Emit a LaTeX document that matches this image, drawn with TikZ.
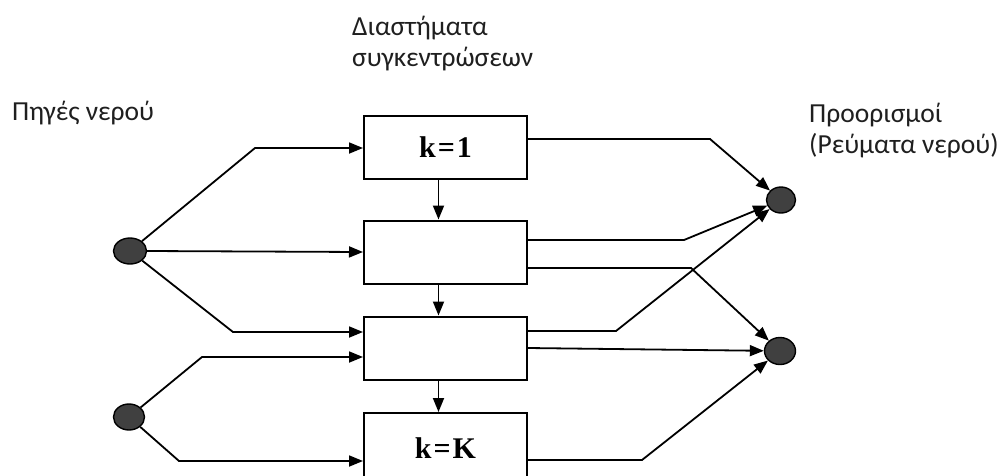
\documentclass[tikz,border=0pt]{standalone}
\usepackage{fontspec}
\setmainfont{Carlito}
\newfontfamily\boxfont{Liberation Serif}
\usetikzlibrary{arrows.meta,shapes.geometric}

\begin{document}
\begin{tikzpicture}[x=1pt,y=-1pt,
  stage/.style={draw,line width=2pt,minimum width=163pt,minimum height=63pt,
    inner sep=0pt,font=\boxfont\bfseries\fontsize{30}{32}\selectfont},
  spot/.style={ellipse,draw,line width=1.4pt,fill=black!75,inner sep=0pt},
  flow/.style={line width=1.8pt,-{Triangle[length=14pt,width=11pt]}},
  caption/.style={font=\fontsize{27.5}{30.5}\selectfont,inner sep=0pt,align=left,
    text=black!88}
]
\useasboundingbox (0,0) rectangle (1005,475);
\clip (0,0) rectangle (1005,475);

% concentration intervals
\node[stage] (b1) at (445.5,147.5) {k\kern2pt=\kern2pt1};
\node[stage] (b2) at (445.5,252) {};
\node[stage] (b3) at (445.5,348) {};
\node[stage,minimum height=70pt] (b4) at (445.5,448) {k\kern2pt=\kern2pt K};

% sources and destinations
\node[spot,minimum width=33pt,minimum height=26pt] (s1) at (130,251) {};
\node[spot,minimum width=31pt,minimum height=26pt] (s2) at (129,417) {};
\node[spot,minimum width=29pt,minimum height=26pt] (d1) at (781,200) {};
\node[spot,minimum width=31pt,minimum height=27pt] (d2) at (780,351) {};

% labels
\node[caption,anchor=base west] (lsrc) at (12,120) {Πηγές νερού};
\node[caption,anchor=base west] (lint) at (352,66) {Διαστήματα\\συγκεντρώσεων};
\node[caption,anchor=base west] (ldst) at (809,153) {Προορισμοί\\(Ρεύματα νερού)};

% bends of the connectors
\coordinate (i1) at (255,148);
\coordinate (i3) at (233,332);
\coordinate (i4) at (202,357);
\coordinate (i5) at (179,461);
\coordinate (o1) at (710,139);
\coordinate (o2) at (684,240);
\coordinate (o3) at (691,268);
\coordinate (o4) at (616,331);
\coordinate (o5) at (700,348);
\coordinate (o6) at (642,460);

% inputs
\draw[flow] (s1) -- (i1) -- (i1 -| b1.west);
\draw[flow] (s1.east) -- (b2.west);
\draw[flow] (s1) -- (i3) -- (i3 -| b3.west);
\draw[flow] (s2) -- (i4) -- (i4 -| b3.west);
\draw[flow] (s2) -- (i5) -- (i5 -| b4.west);

% cascade between intervals
\draw[flow] ([xshift=-7pt]b1.south) -- ([xshift=-7pt]b2.north);
\draw[flow] ([xshift=-7pt]b2.south) -- ([xshift=-7pt]b3.north);
\draw[flow] ([xshift=-7pt]b3.south) -- ([xshift=-7pt]b4.north);

% outputs
\draw[flow] (o1 -| b1.east) -- (o1) -- (d1);
\draw[flow] (o2 -| b2.east) -- (o2) -- (d1);
\draw[flow] (o3 -| b2.east) -- (o3) -- (d2);
\draw[flow] (o4 -| b3.east) -- (o4) -- (d1);
\draw[flow] (o5 -| b3.east) -- (d2);
\draw[flow] (o6 -| b4.east) -- (o6) -- (d2);
\end{tikzpicture}
\end{document}
